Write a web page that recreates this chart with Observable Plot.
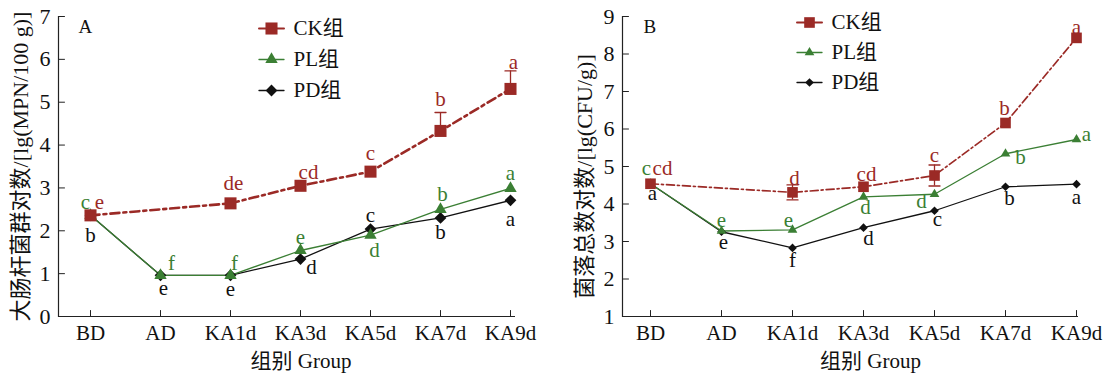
<!DOCTYPE html>
<html><head><meta charset="utf-8">
<script src="https://cdn.jsdelivr.net/npm/d3@7"></script>
<script src="https://cdn.jsdelivr.net/npm/@observablehq/plot@0.6"></script>
<style>
body{margin:0;background:#fff;}
#wrap{display:flex;width:1113px;height:379px;overflow:hidden;}
#wrap svg{font-family:"Liberation Serif","Noto Sans CJK SC",serif;overflow:visible;}
</style></head><body><div id="wrap"></div>
<script>
// ---------- data ----------
const groups = ["BD", "AD", "KA1d", "KA3d", "KA5d", "KA7d", "KA9d"];
const seriesNames = ["CK组", "PL组", "PD组"];

// Panel A: 大肠杆菌群 lg(MPN/100 g)
const ckA    = [2.36, null, 2.64, 3.05, 3.38, 4.33, 5.31];
const ckAErr = [0, null, 0, 0, 0, 0.43, 0.42];
const plA    = [2.36, 0.96, 0.96, 1.54, 1.90, 2.50, 2.99];
const pdA    = [2.36, 0.96, 0.96, 1.34, 2.04, 2.30, 2.71];
const ckALetters = ["e", "", "de", "cd", "c", "b", "a"];
const plALetters = ["c", "f", "f", "e", "d", "b", "a"];
const pdALetters = ["b", "e", "e", "d", "c", "b", "a"];
const yTicksA = [0, 1, 2, 3, 4, 5, 6, 7];

// Panel B: 菌落总数 lg(CFU/g)
const ckB    = [4.54, null, 4.31, 4.46, 4.76, 6.16, 8.43];
const ckBErr = [0, null, 0.2, 0, 0.28, 0, 0];
const plB    = [4.54, 3.28, 3.31, 4.19, 4.26, 5.34, 5.72];
const pdB    = [4.54, 3.26, 2.83, 3.37, 3.82, 4.46, 4.53];
const ckBLetters = ["cd", "", "d", "cd", "c", "b", "a"];
const plBLetters = ["c", "e", "e", "d", "d", "b", "a"];
const pdBLetters = ["a", "e", "f", "d", "c", "b", "a"];
const yTicksB = [1, 2, 3, 4, 5, 6, 7, 8, 9];

// ---------- styling / layout ----------
const colors = ["#9b2a26", "#3b7f34", "#111111"];
const symbols = ["square", "triangle", "diamond2"];
const serif = '"Liberation Serif","Noto Sans CJK SC",serif';
// letter label offsets [dx, dy] in px (layout only)
const offA = [
  [[9,-13],[0,0],[3,-20],[8,-14],[0,-18],[0,-13],[3,-9]],
  [[-5,-13],[11,-12],[4,-12],[0,-13],[4,15],[2,-15],[0,-15]],
  [[0,20],[3,13],[0,14],[11,8],[0,-14],[0,14],[0,19]]
];
const offB = [
  [[12,-15],[0,0],[2,-7],[3,-12],[0,-10],[-1,-15],[0,-11]],
  [[-4,-15],[0,-11],[-4,-10],[2,10],[-13,7],[15,4],[10,-5]],
  [[2,10],[2,11],[0,12],[5,11],[3,9],[4,12],[0,13]]
];

const lineShape = {draw(ctx, l) { ctx.moveTo(0, 0); ctx.lineTo(0, -l); }};

function panel(cfg) {
  const {width, marginLeft, marginRight, xRange, yDomain, yTicks, series, errs, errMode,
         letters, offs, yLabel, tag, yLabelDy, xLabelDx, legend} = cfg;
  const rows = series.map((vals, s) => groups.map((g, i) => ({
    s, g, v: vals[i], e: s === 0 ? (errs[i] || 0) : 0, t: letters[s][i], off: offs[s][i]
  })).filter(d => d.v != null));

  const marks = [];
  marks.push(Plot.ruleY([yDomain[0]], {stroke: "#222", strokeWidth: 1.2}));
  marks.push(Plot.frame({anchor: "left", stroke: "#222", strokeWidth: 1.2}));
  marks.push(Plot.vector(yTicks, {y: d => d, frameAnchor: "left", rotate: 90, anchor: "start",
    length: 6, shape: lineShape, stroke: "#222", strokeWidth: 1}));
  marks.push(Plot.vector(groups, {x: d => d, frameAnchor: "bottom", rotate: 0, anchor: "start",
    length: 6, shape: lineShape, stroke: "#222", strokeWidth: 1}));
  marks.push(Plot.axisY({ticks: yTicks, tickFormat: d3.format("d"), tickSize: 0, tickPadding: 8, label: null,
    fontSize: 22, fill: "#111", fontFamily: serif}));
  marks.push(Plot.axisX({tickSize: 0, tickPadding: 9, label: null, fontSize: 21, fill: "#111", fontFamily: serif}));
  const lineStyles = [
    {stroke: colors[0], strokeWidth: cfg.ckWidth, strokeDasharray: cfg.ckDash},
    {stroke: colors[1], strokeWidth: 1.3},
    {stroke: colors[2], strokeWidth: 1.3}
  ];
  [2, 1, 0].forEach(s => marks.push(Plot.line(rows[s], {x: "g", y: "v", ...lineStyles[s]})));
  const er = rows[0].filter(d => d.e > 0);
  marks.push(Plot.ruleX(er, {x: "g", y1: d => errMode === "both" ? d.v - d.e : d.v, y2: d => d.v + d.e,
    stroke: colors[0], strokeWidth: 1.3}));
  marks.push(Plot.vector(er, {x: "g", y: d => d.v + d.e, rotate: 90, anchor: "middle", length: 11,
    shape: lineShape, stroke: colors[0], strokeWidth: 1.3}));
  if (errMode === "both")
    marks.push(Plot.vector(er, {x: "g", y: d => d.v - d.e, rotate: 90, anchor: "middle", length: 11,
      shape: lineShape, stroke: colors[0], strokeWidth: 1.3}));
  const rs = cfg.markerR;
  [2, 1, 0].forEach(s => marks.push(Plot.dot(rows[s], {x: "g", y: "v", symbol: () => symbols[s],
    r: rs[s], fill: colors[s], stroke: "none"})));
  for (let s = 0; s < 3; s++) {
    for (const d of rows[s]) {
      if (!d.t) continue;
      marks.push(Plot.text([d], {x: "g", y: dd => dd.v + dd.e, text: "t", dx: d.off[0], dy: d.off[1],
        fill: colors[s], fontSize: 21, fontFamily: serif}));
    }
  }
  marks.push(Plot.text([tag], {text: d => d, frameAnchor: "top-left", dx: cfg.tagDx, dy: 3, fontSize: 19,
    fill: "#111", fontFamily: serif}));
  seriesNames.forEach((name, s) => {
    const dy = legend.dy0 + s * legend.step;
    marks.push(Plot.vector([name], {frameAnchor: "top-left", dx: legend.dx, dy, rotate: 90, anchor: "middle",
      length: 25, shape: lineShape, stroke: colors[s], strokeWidth: s === 0 ? 2 : 1.3}));
    marks.push(Plot.dot([name], {frameAnchor: "top-left", dx: legend.dx, dy, symbol: () => symbols[s],
      r: rs[s], fill: colors[s], stroke: "none"}));
    marks.push(Plot.text([name], {text: d => d, frameAnchor: "top-left", dx: legend.dx + 22, dy,
      textAnchor: "start", lineAnchor: "middle", fontSize: 21, fill: "#111", fontFamily: serif}));
  });
  marks.push(Plot.text([yLabel], {text: d => d, frameAnchor: "left", textAnchor: "middle", dx: -38, dy: yLabelDy, rotate: -90,
    fontSize: 22, fill: "#111", fontFamily: serif}));
  marks.push(Plot.text(["组别 Group"], {text: d => d, frameAnchor: "bottom", textAnchor: "middle", lineAnchor: "middle",
    dx: xLabelDx, dy: 45, fontSize: 21, fill: "#111", fontFamily: serif}));

  return Plot.plot({
    width, height: 379, marginLeft, marginRight, marginTop: 16, marginBottom: 63,
    x: {type: "point", domain: groups, range: xRange, padding: 0},
    y: {domain: yDomain, range: [379 - 63, 16]},
    style: {fontFamily: serif, fontSize: "21px", background: "#fff", overflow: "visible"},
    marks
  });
}

const A = panel({
  width: 556, marginLeft: 58, marginRight: 41, xRange: [87, 512], yDomain: [0, 7], yTicks: yTicksA,
  series: [ckA, plA, pdA], errs: ckAErr, errMode: "up",
  letters: [ckALetters, plALetters, pdALetters], offs: offA,
  yLabel: "大肠杆菌群对数/[lg(MPN/100 g)]", tag: "A", tagDx: 20, yLabelDy: 0, xLabelDx: 14,
  legend: {dx: 213, dy0: 12, step: 31}, ckWidth: 2.6, ckDash: "9,4,3,4", markerR: [6.8, 4.6, 5.3]
});
const B = panel({
  width: 557, marginLeft: 66, marginRight: 35, xRange: [93, 520], yDomain: [1, 9], yTicks: yTicksB,
  series: [ckB, plB, pdB], errs: ckBErr, errMode: "both",
  letters: [ckBLetters, plBLetters, pdBLetters], offs: offB,
  yLabel: "菌落总数对数/[lg(CFU/g)]", tag: "B", tagDx: 21, yLabelDy: 10, xLabelDx: 20,
  legend: {dx: 187, dy0: 6, step: 30}, ckWidth: 1.7, ckDash: "8,3,2,3", markerR: [6, 3.6, 3.9]
});
const wrap = document.getElementById("wrap");
wrap.append(A, B);
</script></body></html>
